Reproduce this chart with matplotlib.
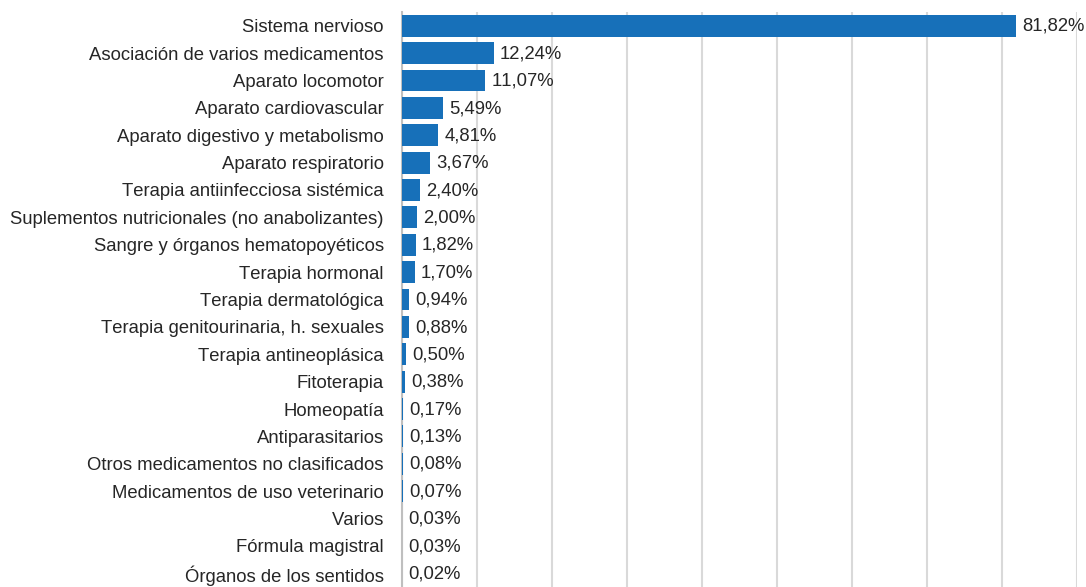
import matplotlib
matplotlib.use("Agg")
import matplotlib.pyplot as plt

categories = [
    "Sistema nervioso",
    "Asociación de varios medicamentos",
    "Aparato locomotor",
    "Aparato cardiovascular",
    "Aparato digestivo y metabolismo",
    "Aparato respiratorio",
    "Terapia antiinfecciosa sistémica",
    "Suplementos nutricionales (no anabolizantes)",
    "Sangre y órganos hematopoyéticos",
    "Terapia hormonal",
    "Terapia dermatológica",
    "Terapia genitourinaria, h. sexuales",
    "Terapia antineoplásica",
    "Fitoterapia",
    "Homeopatía",
    "Antiparasitarios",
    "Otros medicamentos no clasificados",
    "Medicamentos de uso veterinario",
    "Varios",
    "Fórmula magistral",
    "Órganos de los sentidos",
]
values = [81.82, 12.24, 11.07, 5.49, 4.81, 3.67, 2.40, 2.00, 1.82, 1.70,
          0.94, 0.88, 0.50, 0.38, 0.17, 0.13, 0.08, 0.07, 0.03, 0.03, 0.02]

plt.rcParams["font.family"] = ["Liberation Sans", "DejaVu Sans"]
plt.rcParams["text.kerning_factor"] = 6
FS = 13.35

fig = plt.figure(figsize=(10.86, 5.87), dpi=100)
ax = fig.add_axes([402 / 1086, 0.0, (1077 - 402) / 1086, 575 / 587])

y = list(range(len(categories)))
ax.barh(y, values, height=0.8, color="#1770B9", zorder=3)

for yi, v in zip(y, values):
    ax.annotate(f"{v:.2f}%".replace(".", ","), xy=(v, yi), xytext=(4.5, -0.5),
                textcoords="offset points", va="center", ha="left",
                fontsize=FS, color="#262626", annotation_clip=False)

ax.set_xlim(0, 90)
ax.set_ylim(len(categories) - 0.5, -0.5)
ax.set_xticks(range(0, 91, 10))
ax.set_xticklabels([])
ax.tick_params(axis="x", length=0)
ax.set_yticks(y)
ax.set_yticklabels(categories, fontsize=FS, color="#262626")
ax.tick_params(axis="y", length=0, pad=13)
ax.grid(axis="x", color="#D9D9D9", linewidth=1.5, zorder=0)
for side in ["top", "right", "bottom"]:
    ax.spines[side].set_visible(False)
ax.spines["left"].set_color("#BFBFBF")
ax.spines["left"].set_linewidth(1.5)

fig.savefig("out.png", dpi=100)
